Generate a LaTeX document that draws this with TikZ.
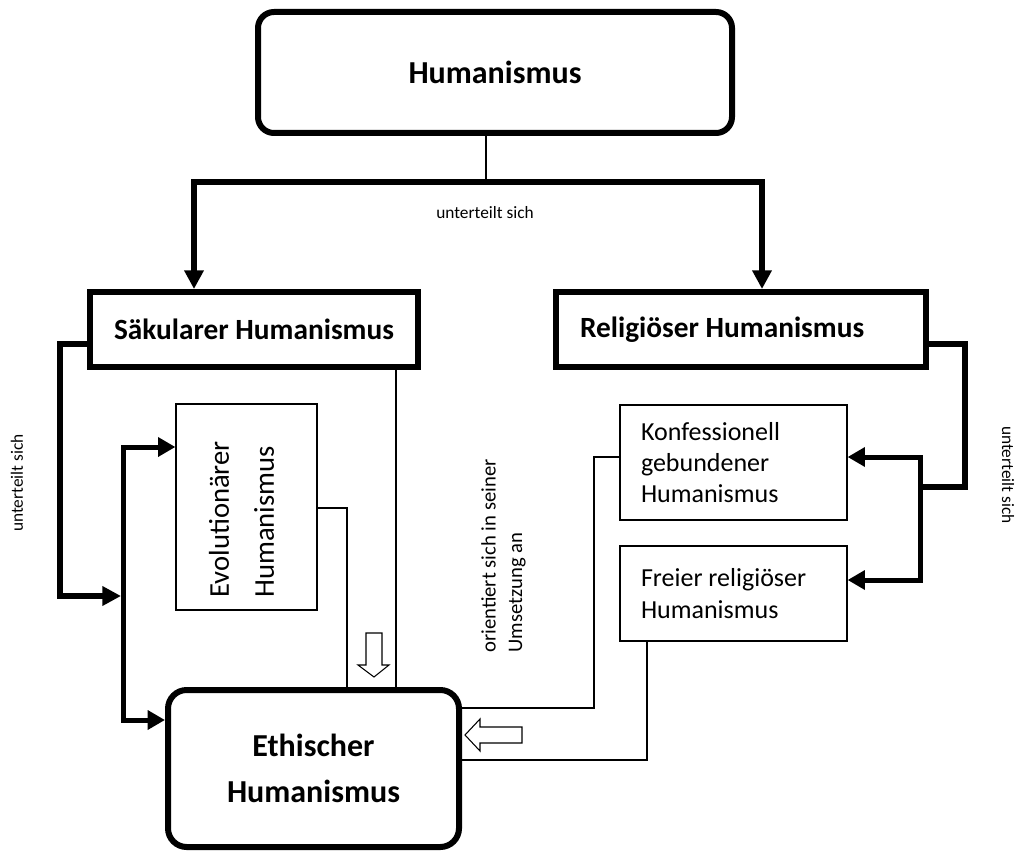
\documentclass[tikz,border=0pt]{standalone}
\usepackage{fontspec}
\setmainfont{Carlito}
\usetikzlibrary{arrows.meta}

\begin{document}
\begin{tikzpicture}[x=0.75pt,y=-0.75pt,
    bigbox/.style={draw, line width=4.5pt, inner sep=0pt, align=center, font=\bfseries\fontsize{22}{27}\selectfont},
    roundbox/.style={bigbox, rounded corners=12pt, font=\bfseries\fontsize{24}{34}\selectfont},
    smallbox/.style={draw, line width=0.9pt, inner sep=0pt, font=\fontsize{19.5}{23.5}\selectfont},
    lbl/.style={inner sep=0pt, align=flush left, font=\fontsize{13}{20}\selectfont},
    thickline/.style={line width=4.5pt},
    thinline/.style={line width=0.8pt},
    bigarrow/.style={line width=4.5pt, -{Triangle[length=14pt,width=14pt]}},
    busarrows/.style={line width=3.75pt, {Triangle[length=13pt,width=14pt]}-{Triangle[length=13pt,width=14pt]}}]
        \useasboundingbox (0,0) rectangle (1017,852);

        % Draw the boxes
        \node[roundbox, minimum width=355.5pt, minimum height=90.75pt] (human) at (495,72.5) {Humanismus};
        \node[bigbox, minimum width=246pt, minimum height=56.25pt] (sak) at (254,329.5) {Säkularer Humanismus};
        \node[bigbox, minimum width=277.5pt, minimum height=56.25pt, text width=241.5pt, inner xsep=18pt, align=flush left] (rel) at (741,329.5) {Religiöser Humanismus};
        \node[smallbox, minimum width=105.75pt, minimum height=154.5pt, font=\fontsize{21.5}{33.75}\selectfont] (evo) at (246.5,507) {\hspace*{-7.5pt}\rotatebox{90}{\parbox{136pt}{Evolutionärer\\ Humanismus}}};
        \node[smallbox, minimum width=170.25pt, minimum height=86.25pt, text width=138.75pt, inner xsep=15.75pt, align=flush left] (konf) at (733.5,462.5) {Konfessionell\\ gebundener\\ Humanismus};
        \node[smallbox, minimum width=170.25pt, minimum height=71.25pt, text width=138.75pt, inner xsep=15.75pt, align=flush left] (frei) at (733.5,593.5) {Freier religiöser\\ Humanismus};
        \node[roundbox, rounded corners=14pt, minimum width=218.25pt, minimum height=117.75pt] (eth) at (313.5,768.5) {Ethischer\\ Humanismus};

        % Labels
        \node[lbl] (splitLabel) at (485,213) {unterteilt sich};
        \node[lbl, rotate=90] (sakLabel) at (17,483) {unterteilt sich};
        \node[lbl, rotate=-90] (relLabel) at (1008,475) {unterteilt sich};
        \node[lbl, rotate=90, font=\fontsize{15.5}{20}\selectfont] (orientLabel) at (503.5,556) {orientiert sich in seiner\\ Umsetzung an};

        % Top split
        \coordinate (fork) at (486,182);
        \coordinate (forkL) at (194,182);
        \coordinate (forkR) at (762,182);
        \draw[thinline] (human.south -| fork) -- (fork);
        \draw[bigarrow] (fork) -- (forkL) -- (forkL |- sak.north);
        \draw[bigarrow] (fork) -- (forkR) -- (forkR |- rel.north);

        % Left split
        \coordinate (sakOut) at (60,344);
        \coordinate (busMid) at (121,596);
        \coordinate (busTop) at (123,447);
        \coordinate (busBot) at (123,720);
        \draw[bigarrow] (sak.west |- sakOut) -- (sakOut) |- (busMid);
        \draw[busarrows] (evo.west |- busTop) -- (busTop) -- (busBot) -- (eth.west |- busBot);

        % Right split
        \coordinate (relOut) at (965,344);
        \coordinate (relJoin) at (920,487);
        \coordinate (konfIn) at (920,457);
        \coordinate (freiIn) at (920,580);
        \draw[thickline] (rel.east |- relOut) -- (relOut) |- (relJoin);
        \draw[busarrows] (konf.east |- konfIn) -- (konfIn) -- (freiIn) -- (frei.east |- freiIn);

        % Thin lines to the bottom box
        \coordinate (evoOut) at (347,508);
        \coordinate (sakDown) at (396,400);
        \coordinate (konfOut) at (594,457);
        \coordinate (konfEth) at (594,708);
        \coordinate (freiEth) at (647,760);
        \draw[thinline] (evo.east |- evoOut) -- (evoOut) -- (evoOut |- eth.north);
        \draw[thinline] (sakDown |- sak.south) -- (sakDown |- eth.north);
        \draw[thinline] (konf.west |- konfOut) -- (konfOut) -- (konfEth) -- (konfEth -| eth.east);
        \draw[thinline] (freiEth |- frei.south) -- (freiEth) -- (freiEth -| eth.east);

        % Hollow arrows
        \draw[thinline, fill=white] (366,633) -- (382,633) -- (382,665) -- (389,665) -- (374,677) -- (358,665) -- (366,665) -- cycle;
        \draw[thinline, fill=white] (522,727) -- (522,743) -- (480,743) -- (480,751) -- (465,735) -- (480,719) -- (480,727) -- cycle;
    \end{tikzpicture}
\end{document}
